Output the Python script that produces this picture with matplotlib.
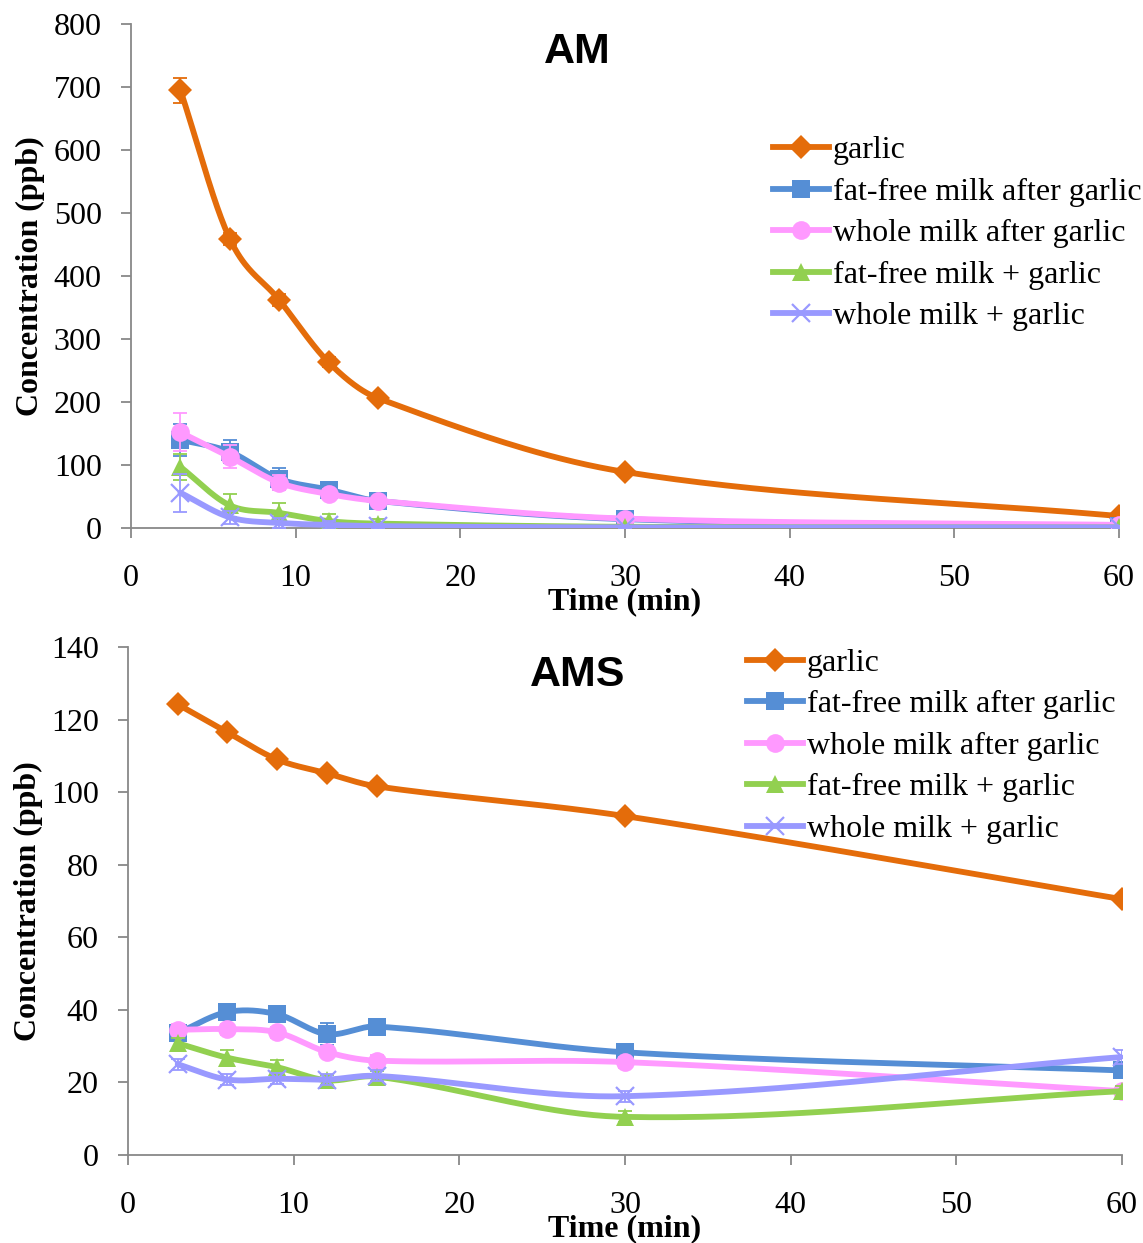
#!/usr/bin/env python3
"""AM / AMS concentration over time after garlic, with milk treatments."""

import matplotlib
matplotlib.use("Agg")
import matplotlib.pyplot as plt
import numpy as np

TIME = [3, 6, 9, 12, 15, 30, 60]
LABELS = ["garlic", "fat-free milk after garlic", "whole milk after garlic",
          "fat-free milk + garlic", "whole milk + garlic"]
COLORS = ["#E46C0A", "#558ED5", "#FF99FF", "#92D050", "#9999FF"]
MARKERS = ["D", "s", "o", "^", "x"]

# AM panel (ppb)
AM_GARLIC = [695, 459, 362, 263, 206, 89, 19]
AM_FF_AFTER = [140, 121, 78, 61, 43, 14, 3]
AM_WH_AFTER = [152, 113, 72, 54, 43, 15, 5]
AM_FF_PLUS = [97, 36, 24, 11, 7, 2, 1]
AM_WH_PLUS = [56, 17, 8, 5, 3, 1, 1]
AM_ERR = [
    [20, 10, 10, 8, 6, 5, 4],
    [25, 18, 18, 10, 8, 4, 2],
    [30, 18, 12, 8, 6, 4, 2],
    [20, 18, 15, 12, 8, 3, 2],
    [30, 10, 8, 6, 4, 2, 2],
]

# AMS panel (ppb)
AMS_GARLIC = [124.2, 116.5, 109.0, 105.2, 101.6, 93.4, 70.5]
AMS_FF_AFTER = [33.6, 39.4, 38.8, 33.3, 35.4, 28.3, 23.3]
AMS_WH_AFTER = [34.5, 34.7, 33.8, 28.4, 26.0, 25.6, 17.6]
AMS_FF_PLUS = [30.8, 26.8, 24.2, 20.6, 21.6, 10.5, 17.6]
AMS_WH_PLUS = [25.0, 20.8, 21.0, 20.8, 21.8, 16.2, 27.0]
AMS_ERR = [
    [1.0, 1.0, 1.0, 1.0, 1.0, 1.0, 1.0],
    [1.5, 1.5, 1.5, 3.0, 1.5, 1.0, 1.5],
    [1.5, 1.5, 1.5, 1.5, 1.5, 1.5, 1.5],
    [1.5, 2.0, 2.0, 1.5, 1.5, 1.5, 1.5],
    [1.5, 1.5, 1.5, 1.5, 1.5, 1.5, 2.0],
]

SERIF = ["Liberation Serif", "DejaVu Serif"]
FS = 23


def smooth(x, y, n=40):
    """Smoothed line through the points (cubic Hermite, Excel-like look)."""
    x = np.asarray(x, float)
    y = np.asarray(y, float)
    m = np.empty_like(y)
    m[1:-1] = (y[2:] - y[:-2]) / (x[2:] - x[:-2])
    m[0] = (y[1] - y[0]) / (x[1] - x[0])
    m[-1] = (y[-1] - y[-2]) / (x[-1] - x[-2])
    xs, ys = [], []
    t = np.linspace(0, 1, n)
    h00 = 2 * t ** 3 - 3 * t ** 2 + 1
    h10 = t ** 3 - 2 * t ** 2 + t
    h01 = -2 * t ** 3 + 3 * t ** 2
    h11 = t ** 3 - t ** 2
    for i in range(len(x) - 1):
        h = x[i + 1] - x[i]
        xs.append(x[i] + t * h)
        ys.append(h00 * y[i] + h10 * h * m[i] + h01 * y[i + 1] + h11 * h * m[i + 1])
    return np.concatenate(xs), np.concatenate(ys)


def panel(ax, series, errs, ymax, ystep, title, legend_anchor):
    handles = []
    for k, (vals, err) in enumerate(zip(series, errs)):
        col = COLORS[k]
        sx, sy = smooth(TIME, vals)
        ax.plot(sx, sy, color=col, lw=4.2, zorder=2 + k, solid_capstyle="round")
        ax.errorbar(TIME, vals, yerr=err, fmt="none", ecolor=col, elinewidth=1.3,
                    capsize=5, capthick=1.3, zorder=2 + k)
        mk = MARKERS[k]
        ms = {"D": 12.5, "s": 12.5, "o": 13.5, "^": 12.5, "x": 12.5}[mk]
        mew = 1.6 if mk == "x" else 0
        ax.plot(TIME, vals, ls="none", marker=mk, ms=ms, color=col, mew=mew,
                zorder=2 + k)
        h, = ax.plot([], [], color=col, lw=4.2, marker=mk, ms=ms, mew=mew)
        handles.append(h)

    ax.set_xlim(0, 60)
    ax.set_ylim(0, ymax)
    ax.set_xticks(range(0, 61, 10))
    ax.set_yticks(np.arange(0, ymax + 1, ystep))
    for s in ("top", "right"):
        ax.spines[s].set_visible(False)
    for s in ("left", "bottom"):
        ax.spines[s].set_color("#888888")
        ax.spines[s].set_linewidth(1.3)
    ax.tick_params(direction="out", length=7, width=1.3, color="#888888",
                   labelsize=FS)
    ax.tick_params(axis="x", pad=19)
    ax.tick_params(axis="y", pad=14)
    for lab in ax.get_xticklabels() + ax.get_yticklabels():
        lab.set_family(SERIF)
    ax.set_xlabel("Time (min)", family=SERIF, fontsize=FS, fontweight="bold",
                  labelpad=-4)
    ax.set_ylabel("Concentration (ppb)", family=SERIF, fontsize=FS,
                  fontweight="bold", labelpad=6)
    ax.text(0.452, 0.944, title, transform=ax.transAxes, ha="center", va="center",
            fontsize=31, fontweight="bold", family=["Liberation Sans", "DejaVu Sans"])
    ax.legend(handles, LABELS, loc="upper left", bbox_to_anchor=legend_anchor,
              frameon=False, prop={"family": SERIF, "size": FS},
              handlelength=1.75, handletextpad=0.12, labelspacing=0.38,
              borderaxespad=0, borderpad=0)


fig = plt.figure(figsize=(11.43, 12.43), dpi=100)
ax1 = fig.add_axes([0.1146, 0.5752, 0.8644, 0.4055])
ax2 = fig.add_axes([0.1120, 0.0708, 0.8696, 0.4087])

panel(ax1, [AM_GARLIC, AM_FF_AFTER, AM_WH_AFTER, AM_FF_PLUS, AM_WH_PLUS], AM_ERR,
      800, 100, "AM", (0.650, 0.778))
panel(ax2, [AMS_GARLIC, AMS_FF_AFTER, AMS_WH_AFTER, AMS_FF_PLUS, AMS_WH_PLUS],
      AMS_ERR, 140, 20, "AMS", (0.623, 0.997))

fig.savefig("out.png", dpi=100)
